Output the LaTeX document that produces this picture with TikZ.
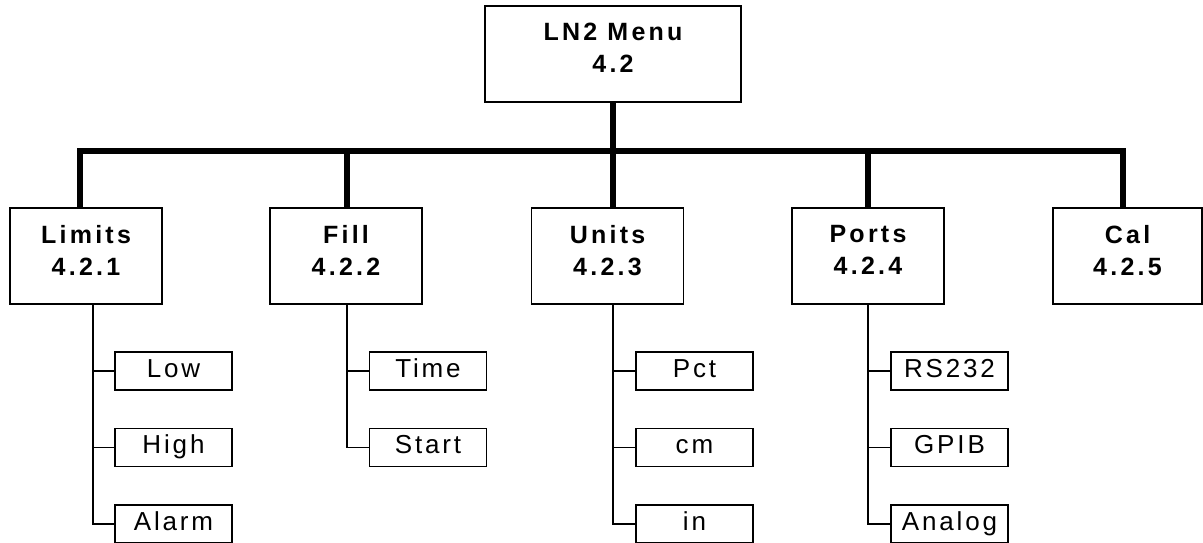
\documentclass[tikz,border=0pt]{standalone}
\usepackage{fontspec}
\newfontfamily\boxfont[LetterSpace=13]{Liberation Sans}
\newfontfamily\subfont[LetterSpace=11]{Liberation Sans}
\begin{document}
\begin{tikzpicture}[x=1pt,y=-1pt,
  mainbox/.style={draw, line width=1.5pt, inner sep=0pt, align=center,
    minimum width=152pt, minimum height=96pt, text depth=12pt,
    font=\boxfont\bfseries\fontsize{25}{32}\selectfont},
  subbox/.style={draw, line width=1.5pt, inner sep=0pt,
    minimum width=117pt, minimum height=38pt, text height=19pt, text depth=7pt,
    font=\subfont\fontsize{26}{30}\selectfont},
  bus/.style={line width=6pt, line join=miter},
  conn/.style={line width=1.5pt}]
\useasboundingbox (0,0) rectangle (1203,542);
\fill[white] (0,0) rectangle (1203,542);
% top
\node[mainbox, minimum width=256pt] (top) at (613,54) {LN2 Menu\\4.2};
% level 2
\node[mainbox] (limits) at (86,256) {Limits\\4.2.1};
\node[mainbox] (fill) at (346,256) {Fill\\4.2.2};
\node[mainbox] (units) at (607.5,256) {Units\\4.2.3};
\node[mainbox] (ports) at (868,256) {Ports\\4.2.4};
\node[mainbox, minimum width=149pt] (cal) at (1127.5,256) {Cal\\4.2.5};
% bus
\coordinate (barL) at (80,151);
\coordinate (barR) at (1123,151);
\draw[bus] (top.south) -- (top.south |- units.north);
\draw[bus] (limits.north -| barL) |- (barR) -- (barR |- cal.north);
\draw[bus] ([xshift=1pt]fill.north) -- ([xshift=1pt]fill.north |- barL);
\draw[bus] (ports.north) -- (ports.north |- barL);
% sub boxes
\node[subbox] (low) at (173.5,371) {Low};
\node[subbox] (high) at (173.5,447.5) {High};
\node[subbox] (alarm) at (173.5,524) {Alarm};
\node[subbox] (time) at (428,371) {Time};
\node[subbox] (start) at (428,447.5) {Start};
\node[subbox] (pct) at (694.5,371) {Pct};
\node[subbox] (cm) at (694.5,447.5) {cm};
\node[subbox] (in) at (694.5,524) {in};
\node[subbox] (rs) at (949.5,371) {RS232};
\node[subbox] (gpib) at (949.5,447.5) {GPIB};
\node[subbox] (analog) at (949.5,524) {Analog};
% thin connectors
\coordinate (lv) at ([xshift=7pt]limits.south);
\coordinate (fv) at ([xshift=1pt]fill.south);
\coordinate (uv) at ([xshift=5.5pt]units.south);
\coordinate (pv) at (ports.south);
\draw[conn] (lv) |- (alarm.west);
\draw[conn] (low.west) -- (low.west -| lv);
\draw[conn] (high.west) -- (high.west -| lv);
\draw[conn] (fv) |- (start.west);
\draw[conn] (time.west) -- (time.west -| fv);
\draw[conn] (uv) |- (in.west);
\draw[conn] (pct.west) -- (pct.west -| uv);
\draw[conn] (cm.west) -- (cm.west -| uv);
\draw[conn] (pv) |- (analog.west);
\draw[conn] (rs.west) -- (rs.west -| pv);
\draw[conn] (gpib.west) -- (gpib.west -| pv);
\end{tikzpicture}
\end{document}
